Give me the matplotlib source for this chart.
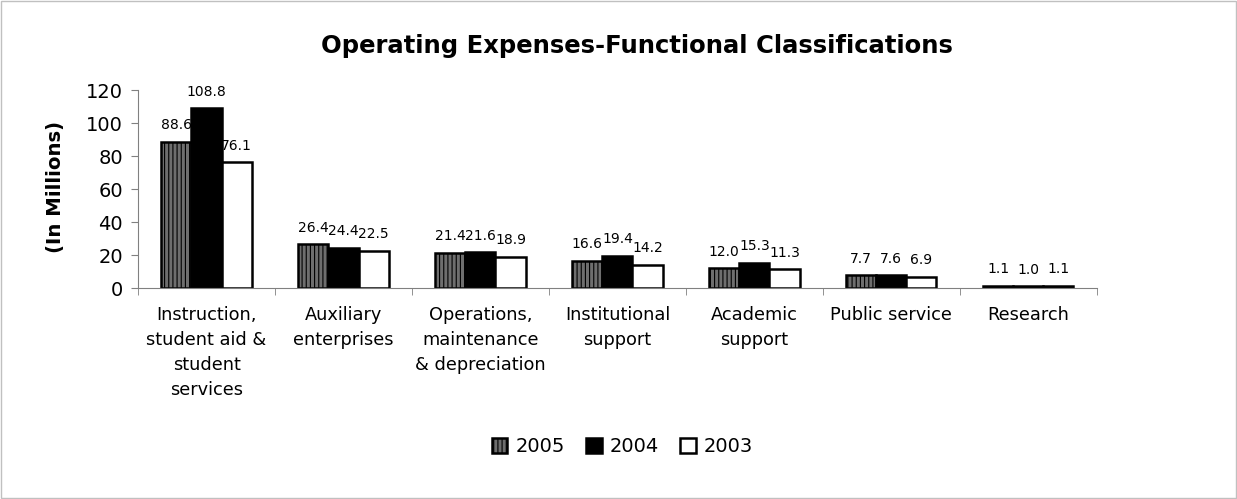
import matplotlib
matplotlib.use("Agg")
import matplotlib.pyplot as plt
import numpy as np

categories = ["Instruction,\nstudent aid &\nstudent\nservices", "Auxiliary\nenterprises",
              "Operations,\nmaintenance\n& depreciation", "Institutional\nsupport",
              "Academic\nsupport", "Public service", "Research"]
years = ["2005", "2004", "2003"]
v2005 = [88.6, 26.4, 21.4, 16.6, 12.0, 7.7, 1.1]
v2004 = [108.8, 24.4, 21.6, 19.4, 15.3, 7.6, 1.0]
v2003 = [76.1, 22.5, 18.9, 14.2, 11.3, 6.9, 1.1]
yticks = [0, 20, 40, 60, 80, 100, 120]

plt.rcParams['font.family'] = ['DejaVu Sans']
plt.rcParams['hatch.color'] = '#b8b8b8'
plt.rcParams['hatch.linewidth'] = 0.8

fig = plt.figure(figsize=(12.37, 4.99), dpi=100)
ax = fig.add_axes([0.1116, 0.4228, 0.775, 0.3968])

x = np.arange(len(categories))
w = 0.22
styles = [dict(facecolor='#6e6e6e', hatch='||||'), dict(facecolor='black'), dict(facecolor='white')]
series = [v2005, v2004, v2003]
for i, (vals, st, lab) in enumerate(zip(series, styles, years)):
    bars = ax.bar(x + (i - 1) * w, vals, w, edgecolor='black', linewidth=1.8, label=lab, **st)
    for b, v in zip(bars, vals):
        ax.annotate(f"{v:.1f}", (b.get_x() + b.get_width() / 2, v), xytext=(0, 7),
                    textcoords='offset points', ha='center', va='bottom', fontsize=10)

ax.set_xlim(-0.5, len(categories) - 0.5)
ax.set_ylim(0, 120)
ax.set_yticks(yticks)
ax.tick_params(axis='y', labelsize=14, direction='out', length=5, color='#808080', pad=6)
ax.set_xticks(x)
ax.set_xticklabels(categories, fontsize=12.8, va='top', linespacing=1.5)
ax.tick_params(axis='x', which='major', length=0, pad=13)
ax.set_xticks(np.arange(-0.5, len(categories)), minor=True)
ax.tick_params(axis='x', which='minor', length=5, direction='out', color='#808080')
for s in ['top', 'right']:
    ax.spines[s].set_visible(False)
for s in ['left', 'bottom']:
    ax.spines[s].set_color('#808080')
ax.set_ylabel("(In Millions)", fontsize=14.2, fontweight='bold')
ax.yaxis.set_label_coords(-0.076, 0.51)

fig.suptitle("Operating Expenses-Functional Classifications", fontsize=17.5, fontweight='bold',
             x=0.515, y=0.932)
fig.legend(loc='center', bbox_to_anchor=(0.503, 0.105), ncol=3, frameon=False, fontsize=14,
           handlelength=0.8, handleheight=0.8, handletextpad=0.4, columnspacing=1.1)

fig.patches.append(plt.Rectangle((0.001, 0.002), 0.998, 0.996, transform=fig.transFigure,
                                 fill=False, edgecolor='#c0c0c0', linewidth=1))
fig.savefig("out.png", dpi=100)
